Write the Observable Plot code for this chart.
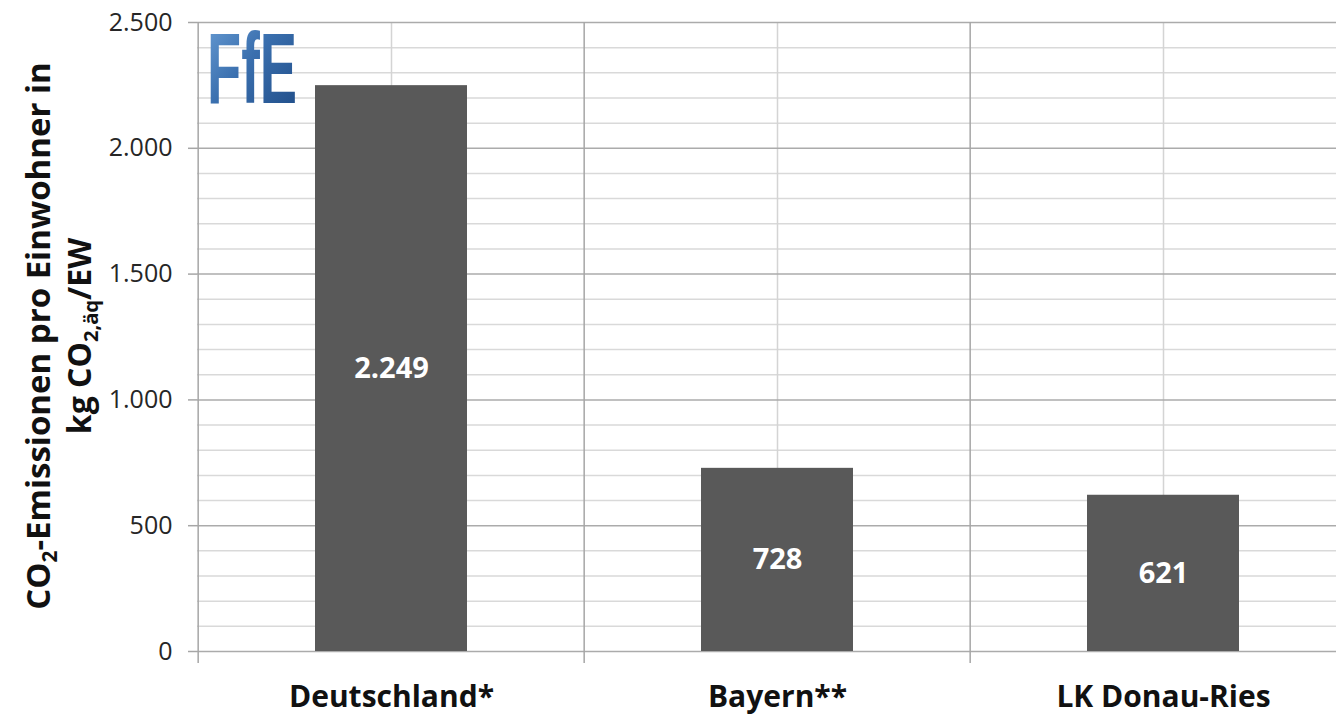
<!DOCTYPE html>
<html><head><meta charset="utf-8">
<script src="https://cdn.jsdelivr.net/npm/d3@7"></script>
<script src="https://cdn.jsdelivr.net/npm/@observablehq/plot@0.6"></script>
<style>body{margin:0;background:#fff} svg{display:block}</style>
</head><body><div id="chart"></div>
<script>
const categories = ["Deutschland*", "Bayern**", "LK Donau-Ries"];
const values = [2249, 728, 621];
const yTicks = [0, 500, 1000, 1500, 2000, 2500];
const minorTicks = [100, 200, 300, 400, 600, 700, 800, 900, 1100, 1200, 1300, 1400, 1600, 1700, 1800, 1900, 2100, 2200, 2300, 2400];
const logoText = "FfE";

const de = d3.formatLocale({decimal: ",", thousands: ".", grouping: [3], currency: ["", " €"]});
const fmt = de.format(",d");

const W = 1336, H = 717;
const xRange = [197, 1357];
const step = (xRange[1] - xRange[0]) / categories.length;
const data = categories.map((c, i) => ({cat: c, value: values[i]}));
const FONT = "'Open Sans', Lato, sans-serif";

const chart = Plot.plot({
  width: W, height: H,
  marginTop: 22, marginBottom: 66, marginLeft: 197, marginRight: 0,
  style: {fontFamily: FONT, background: "#fff", overflow: "hidden"},
  x: {type: "band", domain: categories, range: xRange, padding: 0},
  y: {domain: [0, 2500], label: null},
  marks: [
    Plot.ruleY(minorTicks, {stroke: "#d9d9d9", strokeWidth: 1.5}),
    Plot.ruleX(categories, {x: d => d, y1: 0, y2: 2500, stroke: "#d4d4d4", strokeWidth: 1.5}),
    Plot.ruleY(yTicks, {stroke: "#ababab", strokeWidth: 1.5}),
    Plot.ruleX(categories, {x: d => d, dx: -step / 2, y1: -48, y2: 2500, stroke: "#a6a6a6", strokeWidth: 1.5}),
    Plot.barY(data, {x: "cat", y: "value", fill: "#595959", insetLeft: 117, insetRight: 117}),
    Plot.text(data, {x: "cat", y: d => d.value / 2, text: d => fmt(d.value), fill: "white", fontWeight: "bold", fontSize: 29}),
    Plot.axisY({ticks: yTicks, tickFormat: fmt, tickSize: 9, tickPadding: 16, fontSize: 25, stroke: "#a6a6a6", fill: "#262626", strokeWidth: 1.5}),
    Plot.axisX({tickSize: 0, fontSize: 30, fontWeight: "bold", tickPadding: 34, fill: "#111", label: null})
  ]
});

const svg = d3.select(chart);
// Logo
const defs = svg.append("defs");
const g = defs.append("linearGradient").attr("id", "logoGrad").attr("x1", "0").attr("y1", "0").attr("x2", "1").attr("y2", "1");
g.append("stop").attr("offset", "0%").attr("stop-color", "#6b9fd6");
g.append("stop").attr("offset", "45%").attr("stop-color", "#3a6fae");
g.append("stop").attr("offset", "100%").attr("stop-color", "#1d4a85");
svg.append("text")
  .attr("x", 207).attr("y", 103)
  .attr("text-anchor", "start")
  .attr("font-family", "'Liberation Sans Narrow', 'Liberation Sans', sans-serif")
  .attr("font-weight", "bold").attr("font-size", 100)
  .attr("textLength", 90).attr("lengthAdjust", "spacingAndGlyphs")
  .attr("fill", "url(#logoGrad)")
  .text(logoText);

// Y title with subscripts
function title(x, size, parts) {
  const t = svg.append("text")
    .attr("transform", `translate(${x},336) rotate(-90)`)
    .attr("text-anchor", "middle")
    .attr("font-family", FONT).attr("font-weight", "bold").attr("font-size", size).attr("fill", "#111");
  let shift = 0;
  for (const [s, sub] of parts) {
    const dy = sub ? 7 - shift : -shift;
    shift = sub ? 7 : 0;
    t.append("tspan").attr("dy", dy).attr("font-size", sub ? size * 0.63 : size).text(s);
  }
}
title(50, 33, [["CO", false], ["2", true], ["-Emissionen pro Einwohner in", false]]);
title(91, 32, [["kg CO", false], ["2,äq", true], ["/EW", false]]);

document.getElementById("chart").append(chart);
</script></body></html>
